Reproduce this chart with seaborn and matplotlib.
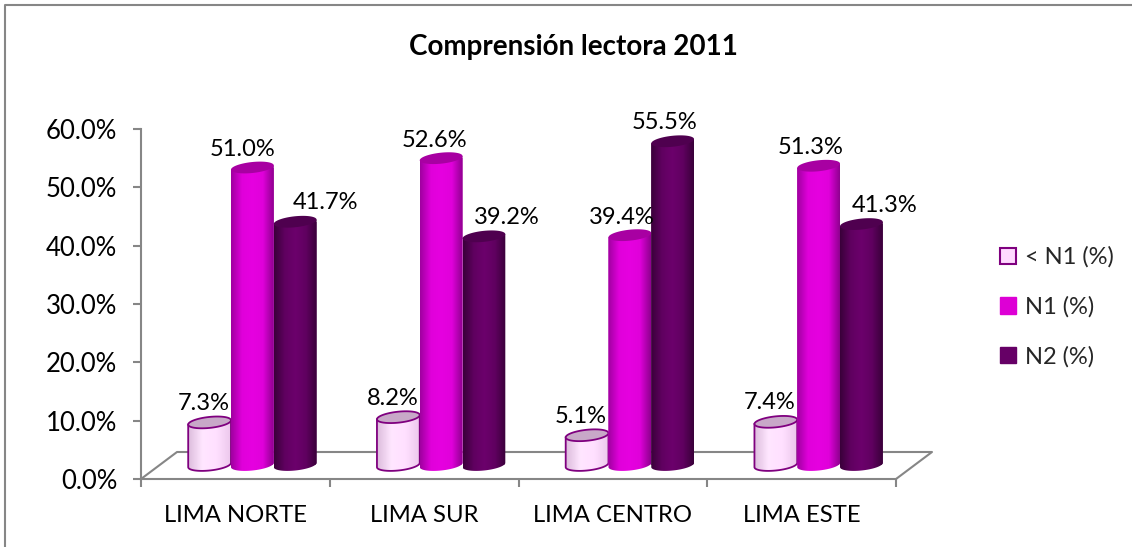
import numpy as np
import pandas as pd
import seaborn as sns
import matplotlib
matplotlib.use('Agg')
import matplotlib.pyplot as plt
from matplotlib.colors import LinearSegmentedColormap
from matplotlib.lines import Line2D
from matplotlib.patches import Patch, Polygon
from matplotlib.transforms import Affine2D, IdentityTransform

# data
regions = ['LIMA NORTE', 'LIMA SUR', 'LIMA CENTRO', 'LIMA ESTE']
levels = ['< N1 (%)', 'N1 (%)', 'N2 (%)']
below_n1 = [7.3, 8.2, 5.1, 7.4]
n1 = [51.0, 52.6, 39.4, 51.3]
n2 = [41.7, 39.2, 55.5, 41.3]
y_ticks = [0, 10, 20, 30, 40, 50, 60]

# looks
GREY = '#868686'
OUTLINE = '#7f007f'
FONT = 'Lato'
gradients = [['#dcbcdc', '#ffe6ff', '#ffe0ff', '#ecc8ec'],
             ['#a000a0', '#e000da', '#e600e0', '#e000da', '#900090'],
             ['#3a003a', '#600060', '#6c006c', '#600060', '#3a003a']]
top_colors = ['#c8a8c8', '#a800a2', '#4f004f']
swatches = ['#ffd9ff', '#dd00d5', '#660066']
# label nudges in pixels from the top of each bar
label_dx = [[-6, -10, 30], [-6, -7, 23], [-6, -8, -8], [-6, -8, 23]]
label_dy = [19, 18, 19]
DEPTH = (36, 27)
BAR_SHIFT = (17, 14)

sns.set_style('white')
plt.rcParams['font.family'] = [FONT, 'DejaVu Sans']

df = pd.DataFrame({'region': regions * 3,
                   'level': np.repeat(levels, 4),
                   'value': below_n1 + n1 + n2})

fig = plt.figure(figsize=(11.32, 5.47), dpi=100)
ax = fig.add_axes([141 / 1132, (547 - 479) / 547, 755 / 1132, 350 / 547])
sns.barplot(data=df, x='region', y='value', hue='level', order=regions, hue_order=levels,
            width=0.68, gap=0, palette=swatches, legend=False, ax=ax, errorbar=None)
ax.set_xlim(-0.5, 3.5)
ax.set_ylim(0, 60)
ax.set_xlabel('')
ax.set_ylabel('')
ax.patch.set_alpha(0)
ax.set_autoscale_on(False)

# axes
sns.despine(ax=ax)
for side in ['left', 'bottom']:
    ax.spines[side].set_color(GREY)
    ax.spines[side].set_linewidth(1.5)
ax.set_yticks(y_ticks, ['%.1f%%' % v for v in y_ticks])
ax.set_xticks(np.arange(-0.5, 4))
ax.set_xticklabels([])
ax.set_xticks(range(4), regions, minor=True)
ax.tick_params(axis='both', which='major', length=6, width=1.5, color=GREY, left=True, bottom=True)
ax.tick_params(axis='x', which='minor', length=0, pad=19, labelsize=17.2, labelcolor='black')
ax.tick_params(axis='y', labelsize=18.5, pad=11, labelcolor='black')

# floor of the 3d box
fig.canvas.draw()
a = ax.transData.transform((-0.5, 0))
b = ax.transData.transform((3.5, 0))
floor = [a, a + DEPTH, b + DEPTH, b]
ax.add_line(Line2D([p[0] for p in floor], [p[1] for p in floor], color=GREY, lw=1.5,
                   transform=IdentityTransform(), clip_on=False, zorder=1))

# cylinders on top of the seaborn bars
shift = ax.transData + Affine2D().translate(*BAR_SHIFT)
t = np.linspace(np.pi, 2 * np.pi, 40)
bars = list(ax.patches)
for k, bar in enumerate(bars):
    s = k // 4
    i = k % 4
    x0, y0 = shift.transform((bar.get_x(), 0))
    x1, y1 = shift.transform((bar.get_x() + bar.get_width(), bar.get_height()))
    cx = (x0 + x1) / 2
    rx = (x1 - x0) / 2
    ry = 5.5
    tilt = 0.1
    ex = cx + rx * np.cos(t)
    lower = y0 + ry * np.sin(t) + tilt * (ex - cx)
    upper = y1 + tilt * (ex - cx)
    body = np.vstack([np.column_stack([ex, lower]), np.column_stack([ex[::-1], upper[::-1]])])
    z = 3 + s
    outline = OUTLINE if s == 0 else 'none'
    shape = Polygon(body, closed=True, facecolor='none', edgecolor=outline, lw=1.3,
                    transform=IdentityTransform(), clip_on=False, zorder=z + 0.2)
    ax.add_patch(shape)
    bar.set_transform(shift)
    bar.set_edgecolor('none')
    bar.set_clip_path(shape)
    bar.set_zorder(z)
    cmap = LinearSegmentedColormap.from_list('cyl%d' % s, gradients[s])
    im = ax.imshow(np.linspace(0, 1, 64).reshape(1, -1), cmap=cmap, aspect='auto',
                   extent=(x0, x1, y0 - ry - 5, y1 + ry + 5), transform=IdentityTransform(),
                   zorder=z + 0.1, interpolation='bilinear')
    im.set_clip_path(shape)
    # lid
    ta = np.linspace(0, 2 * np.pi, 60)
    lx = cx + rx * np.cos(ta)
    ly = y1 + ry * np.sin(ta) + tilt * (lx - cx)
    ax.add_patch(Polygon(np.column_stack([lx, ly]), closed=True, facecolor=top_colors[s],
                         edgecolor=outline, lw=1.3, transform=IdentityTransform(),
                         clip_on=False, zorder=z + 0.3))
    ax.text(cx + label_dx[i][s], y1 + label_dy[s], '%.1f%%' % bar.get_height(),
            ha='center', va='center', fontsize=17, color='black', clip_on=False,
            transform=IdentityTransform(), zorder=10)

ax.set_xlim(-0.5, 3.5)
ax.set_ylim(0, 60)

# chart frame, only left and top are inside the image
fig.add_artist(Line2D([5 / 1132, 5 / 1132, 1], [0, 1 - 5 / 547, 1 - 5 / 547],
                      transform=fig.transFigure, color=GREY, lw=1.5))

fig.text(573 / 1132, 1 - 47 / 547, 'Comprensión lectora 2011', ha='center', va='center',
         fontsize=20, fontweight='bold', color='black')

handles = [Patch(facecolor=swatches[0], edgecolor=OUTLINE, lw=1.5),
           Patch(facecolor=swatches[1], edgecolor=swatches[1]),
           Patch(facecolor=swatches[2], edgecolor=swatches[2])]
fig.legend(handles, levels, loc='center left', bbox_to_anchor=(979 / 1132, 1 - 307 / 547),
           frameon=False, fontsize=17, handlelength=0.68, handleheight=0.68,
           handletextpad=0.35, labelspacing=1.2)

fig.savefig('out.png', dpi=100)
